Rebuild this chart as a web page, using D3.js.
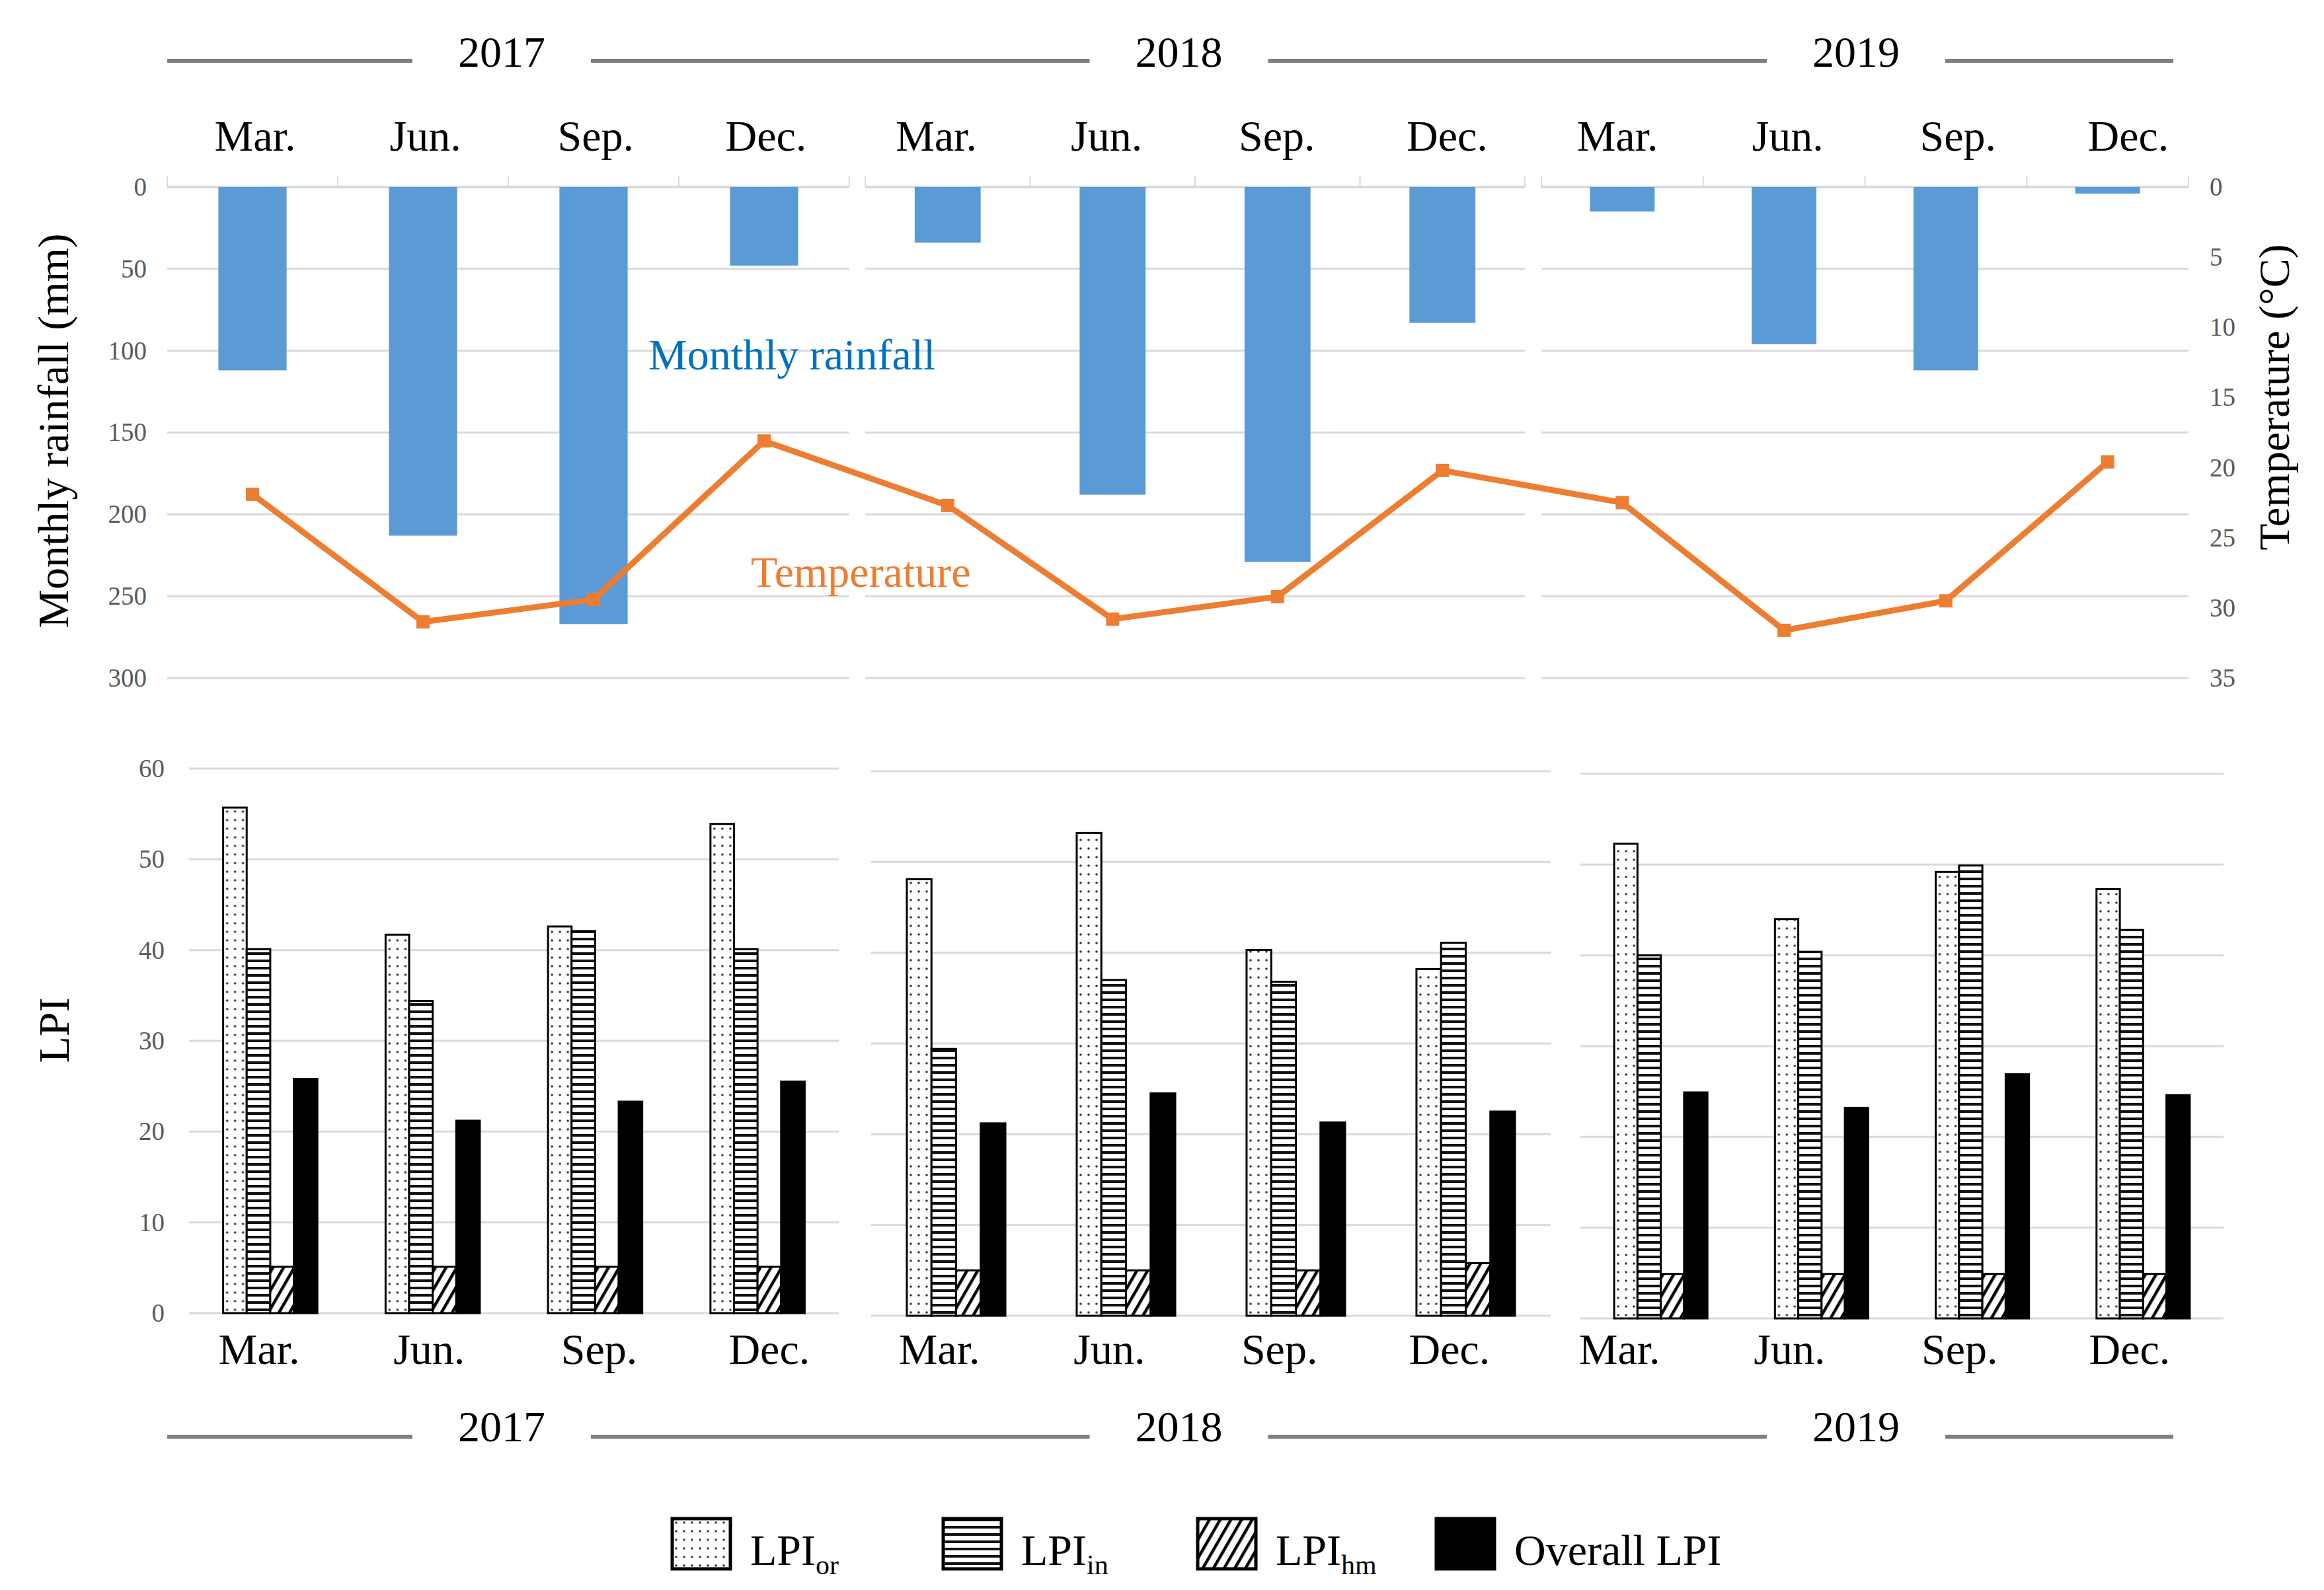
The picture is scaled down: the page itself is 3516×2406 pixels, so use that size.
<!DOCTYPE html>
<html>
<head>
<meta charset="utf-8">
<script src="https://cdn.jsdelivr.net/npm/d3@7"></script>
<style>
body { margin: 0; background: #fff; }
text { font-family: "Liberation Serif", "Times New Roman", serif; }
</style>
</head>
<body>
<div id="chart"></div>
<script>
// Values (one entry per month, 2017 Mar. .. 2019 Dec.)
const years = ["2017", "2018", "2019"];
const months = ["Mar.", "Jun.", "Sep.", "Dec."];
const rainfall = [112, 213, 267, 48, 34, 188, 229, 83, 15, 96, 112, 4];
const temperature = [21.9, 31.0, 29.4, 18.1, 22.7, 30.8, 29.2, 20.2, 22.5, 31.6, 29.5, 19.6];
const lpiOr = [55.7, 41.7, 42.6, 53.9, 48.1, 53.2, 40.3, 38.2, 52.3, 44.0, 49.2, 47.3];
const lpiIn = [40.1, 34.4, 42.1, 40.1, 29.4, 37.0, 36.8, 41.1, 40.0, 40.4, 49.9, 42.8];
const lpiHm = [5.1, 5.1, 5.1, 5.1, 5.0, 5.0, 5.0, 5.8, 4.9, 4.9, 4.9, 4.9];
const lpiAll = [25.8, 21.2, 23.3, 25.5, 21.2, 24.5, 21.3, 22.5, 24.9, 23.2, 26.9, 24.6];
const rainTicks = [0, 50, 100, 150, 200, 250, 300];
const tempTicks = [0, 5, 10, 15, 20, 25, 30, 35];
const lpiTicks = [0, 10, 20, 30, 40, 50, 60];
const seriesKeys = ["or", "in", "hm", "all"];

const width = 3516, height = 2406;
const svg = d3.select("#chart")
    .append("svg")
    .attr("width", width)
    .attr("height", height);

svg.append("rect").attr("width", width).attr("height", height).attr("fill", "#fff");

// Fill patterns for the LPI bars
const defs = svg.append("defs");
const patOr = defs.append("pattern").attr("id", "pat-or")
    .attr("patternUnits", "userSpaceOnUse").attr("width", 12).attr("height", 13);
patOr.append("rect").attr("width", 12).attr("height", 13).attr("fill", "#fff");
patOr.append("circle").attr("cx", 6).attr("cy", 6).attr("r", 1.8).attr("fill", "#333");

const patIn = defs.append("pattern").attr("id", "pat-in")
    .attr("patternUnits", "userSpaceOnUse").attr("width", 10).attr("height", 11);
patIn.append("rect").attr("width", 10).attr("height", 11).attr("fill", "#fff");
patIn.append("rect").attr("width", 10).attr("height", 4).attr("fill", "#111");

const patHm = defs.append("pattern").attr("id", "pat-hm")
    .attr("patternUnits", "userSpaceOnUse").attr("width", 14).attr("height", 14)
    .attr("patternTransform", "rotate(30)");
patHm.append("rect").attr("width", 14).attr("height", 14).attr("fill", "#fff");
patHm.append("rect").attr("width", 4.5).attr("height", 14).attr("fill", "#000");

const seriesFill = { or: "url(#pat-or)", in: "url(#pat-in)", hm: "url(#pat-hm)", all: "#000" };
const seriesValues = { or: lpiOr, in: lpiIn, hm: lpiHm, all: lpiAll };

// Panel layout, one panel per year
const topPanels = [[253, 1285], [1309, 2307], [2332, 3311]];
const bottomPanels = [
    { x0: 286, x1: 1269, dy: 0 },
    { x0: 1318, x1: 2346, dy: 4 },
    { x0: 2391, x1: 3364, dy: 8 }
];
const gridColor = "#d9d9d9";
const tickColor = "#595959";

const yRain = d3.scaleLinear().domain([0, 300]).range([283, 1026]);
const yTemp = d3.scaleLinear().domain([0, 35]).range([283, 1026]);
const yLpi = d3.scaleLinear().domain([0, 60]).range([1987, 1163]);

// ---------- Top: rainfall bars + temperature line ----------
const tempPoints = [];
years.forEach((yr, yi) => {
    const x = d3.scaleBand().domain(months).range(topPanels[yi])
        .paddingInner(0.6).paddingOuter(0.3);
    const g = svg.append("g");

    g.selectAll("line.grid")
        .data(rainTicks.slice(1))
        .join("line")
        .attr("x1", topPanels[yi][0]).attr("x2", topPanels[yi][1])
        .attr("y1", d => yRain(d)).attr("y2", d => yRain(d))
        .attr("stroke", gridColor).attr("stroke-width", 3);

    // axis line at 0 with boundary ticks
    g.append("line")
        .attr("x1", topPanels[yi][0]).attr("x2", topPanels[yi][1])
        .attr("y1", yRain(0)).attr("y2", yRain(0))
        .attr("stroke", gridColor).attr("stroke-width", 4);
    g.selectAll("line.tick")
        .data(d3.range(months.length + 1))
        .join("line")
        .attr("x1", k => topPanels[yi][0] + k * x.step())
        .attr("x2", k => topPanels[yi][0] + k * x.step())
        .attr("y1", yRain(0) - 16).attr("y2", yRain(0))
        .attr("stroke", gridColor).attr("stroke-width", 2);

    g.selectAll("rect.rain")
        .data(months)
        .join("rect")
        .attr("x", m => x(m))
        .attr("width", x.bandwidth())
        .attr("y", yRain(0))
        .attr("height", (m, i) => yRain(rainfall[yi * 4 + i]) - yRain(0))
        .attr("fill", "#5b9bd5");

    months.forEach((m, i) => {
        tempPoints.push({ x: x(m) + x.bandwidth() / 2, t: temperature[yi * 4 + i] });
    });
});

const tempLine = d3.line().x(d => d.x).y(d => yTemp(d.t));
svg.append("path")
    .datum(tempPoints)
    .attr("d", tempLine)
    .attr("fill", "none")
    .attr("stroke", "#ed7d31")
    .attr("stroke-width", 9)
    .attr("stroke-linejoin", "round");
svg.selectAll("rect.marker")
    .data(tempPoints)
    .join("rect")
    .attr("x", d => d.x - 10).attr("y", d => yTemp(d.t) - 10)
    .attr("width", 20).attr("height", 20)
    .attr("fill", "#ed7d31");

// left and right axes of the top chart
const axRain = svg.append("g")
    .attr("transform", "translate(222,0)")
    .call(d3.axisLeft(yRain).tickValues(rainTicks).tickSize(0).tickPadding(0));
const axTemp = svg.append("g")
    .attr("transform", "translate(3343,0)")
    .call(d3.axisRight(yTemp).tickValues(tempTicks).tickSize(0).tickPadding(0));

// ---------- Bottom: LPI grouped bars ----------
years.forEach((yr, yi) => {
    const p = bottomPanels[yi];
    const x = d3.scaleBand().domain(months).range([p.x0, p.x1])
        .paddingInner(0.42).paddingOuter(0.21);
    const xs = d3.scaleBand().domain(seriesKeys).range([0, x.bandwidth()]);
    const g = svg.append("g").attr("transform", `translate(0,${p.dy})`);

    g.selectAll("line.grid")
        .data(lpiTicks)
        .join("line")
        .attr("x1", p.x0).attr("x2", p.x1)
        .attr("y1", d => yLpi(d)).attr("y2", d => yLpi(d))
        .attr("stroke", gridColor).attr("stroke-width", 3);

    const groups = g.selectAll("g.month")
        .data(months)
        .join("g")
        .attr("transform", m => `translate(${x(m)},0)`);

    groups.selectAll("rect")
        .data((m, i) => seriesKeys.map(k => ({ k: k, v: seriesValues[k][yi * 4 + i] })))
        .join("rect")
        .attr("x", d => xs(d.k))
        .attr("width", xs.bandwidth())
        .attr("y", d => yLpi(d.v))
        .attr("height", d => yLpi(0) - yLpi(d.v))
        .attr("fill", d => seriesFill[d.k])
        .attr("stroke", "#000")
        .attr("stroke-width", 3);
});

const axLpi = svg.append("g")
    .attr("transform", "translate(249,0)")
    .call(d3.axisLeft(yLpi).tickValues(lpiTicks).tickSize(0).tickPadding(0));

[axRain, axTemp, axLpi].forEach(a => {
    a.select(".domain").remove();
    a.attr("font-size", 39).attr("font-family", "Liberation Serif, serif");
    a.selectAll("text").attr("fill", tickColor);
});

// ---------- Month and year labels ----------
const monthKeys = d3.cross(years, months).map(d => d[0] + d[1]);
const xMonthTop = d3.scalePoint().domain(monthKeys).range([386, 3220]);
const xMonthBottom = d3.scalePoint().domain(monthKeys).range([392, 3222]);
const xYear = d3.scalePoint().domain(years).range([759, 2808]);

function monthLabels(scale, baseline) {
    svg.append("g").selectAll("text")
        .data(d3.cross(years, months))
        .join("text")
        .attr("x", d => scale(d[0] + d[1]))
        .attr("y", baseline)
        .attr("text-anchor", "middle")
        .attr("font-size", 66)
        .attr("fill", "#000")
        .text(d => d[1]);
}
monthLabels(xMonthTop, 228);
monthLabels(xMonthBottom, 2064);

function yearRow(baseline, lineY) {
    const g = svg.append("g");
    const half = 135;
    const stops = [253].concat(...years.map(y => [xYear(y) - half, xYear(y) + half]), [3288]);
    g.selectAll("line")
        .data(d3.range(0, stops.length, 2))
        .join("line")
        .attr("x1", k => stops[k]).attr("x2", k => stops[k + 1])
        .attr("y1", lineY).attr("y2", lineY)
        .attr("stroke", "#7f7f7f").attr("stroke-width", 6);
    g.selectAll("text")
        .data(years)
        .join("text")
        .attr("x", d => xYear(d))
        .attr("y", baseline)
        .attr("text-anchor", "middle")
        .attr("font-size", 66)
        .text(d => d);
}
yearRow(101, 92);
yearRow(2181, 2174);

// ---------- Axis titles and series annotations ----------
svg.append("text")
    .attr("transform", "translate(103,652) rotate(-90)")
    .attr("text-anchor", "middle").attr("font-size", 66)
    .text("Monthly rainfall (mm)");
svg.append("text")
    .attr("transform", "translate(3463,601) rotate(-90)")
    .attr("text-anchor", "middle").attr("font-size", 66)
    .text("Temperature (°C)");
svg.append("text")
    .attr("transform", "translate(104,1559) rotate(-90)")
    .attr("text-anchor", "middle").attr("font-size", 66)
    .text("LPI");

svg.append("text")
    .attr("x", 981).attr("y", 559)
    .attr("font-size", 66).attr("fill", "#0070c0")
    .text("Monthly rainfall");
svg.append("text")
    .attr("x", 1136).attr("y", 888)
    .attr("font-size", 66).attr("fill", "#ed7d31")
    .text("Temperature");

// ---------- Legend ----------
const legendItems = [
    { k: "or", main: "LPI", sub: "or" },
    { k: "in", main: "LPI", sub: "in" },
    { k: "hm", main: "LPI", sub: "hm" },
    { k: "all", main: "Overall LPI", sub: "" }
];
const legendX = [1017, 1427, 1812, 2173];
const legend = svg.append("g").selectAll("g")
    .data(legendItems)
    .join("g")
    .attr("transform", (d, i) => `translate(${legendX[i]},2298)`);
legend.append("rect")
    .attr("width", 88).attr("height", 76)
    .attr("fill", d => seriesFill[d.k])
    .attr("stroke", "#000").attr("stroke-width", 5);
const lt = legend.append("text")
    .attr("x", 118).attr("y", 70)
    .attr("font-size", 66);
lt.append("tspan").text(d => d.main);
lt.append("tspan").attr("dy", 14).attr("font-size", 42).text(d => d.sub);
</script>
</body>
</html>
